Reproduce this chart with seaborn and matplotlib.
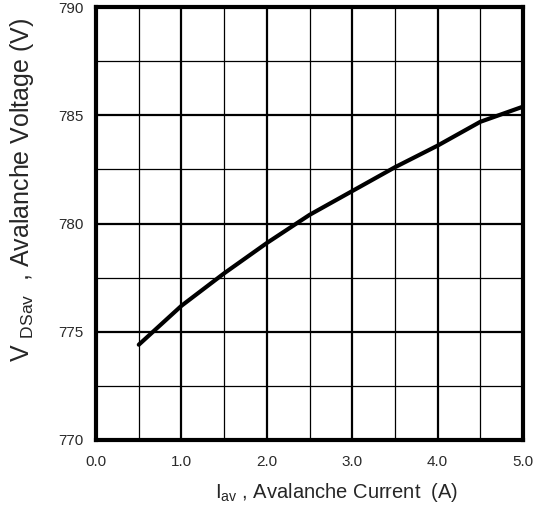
import matplotlib
matplotlib.use("Agg")
import matplotlib.pyplot as plt
import seaborn as sns
import pandas as pd
import numpy as np
from matplotlib.ticker import MultipleLocator

current = [0.5, 1.0, 1.5, 2.0, 2.5, 3.0, 3.5, 4.0, 4.5, 5.0]
voltage = [774.4, 776.2, 777.7, 779.1, 780.4, 781.5, 782.6, 783.6, 784.7, 785.4]
x_ticks = [0.0, 1.0, 2.0, 3.0, 4.0, 5.0]
x_tick_labels = ["0.0", "1.0", "2.0", "3.0", "4.0", "5.0"]
y_ticks = [770, 775, 780, 785, 790]
y_tick_labels = ["770", "775", "780", "785", "790"]

sns.set_style("white")
plt.rcParams['font.family'] = ['Liberation Sans', 'DejaVu Sans']
plt.rcParams['mathtext.fontset'] = 'custom'
plt.rcParams['mathtext.rm'] = 'Liberation Sans'

df = pd.DataFrame({"current": current, "voltage": voltage})

fig = plt.figure(figsize=(5.4, 5.08), dpi=100)
ax = fig.add_axes([0.178, 0.134, 0.7905, 0.852])

ax.set_xlim(0, 5)
ax.set_ylim(770, 790)
ax.xaxis.set_minor_locator(MultipleLocator(0.5))
ax.yaxis.set_minor_locator(MultipleLocator(2.5))
ax.grid(which='major', color='black', linewidth=1.6)
ax.grid(which='minor', color='black', linewidth=0.9)
ax.set_axisbelow(True)

sns.lineplot(data=df, x="current", y="voltage", ax=ax, color='black', linewidth=3.0)

ax.set_xticks(x_ticks)
ax.set_xticklabels(x_tick_labels)
ax.set_yticks(y_ticks)
ax.set_yticklabels(y_tick_labels)
ax.tick_params(which='both', length=0, labelsize=11, labelcolor='#2a2a2a')
ax.tick_params(axis='x', pad=11)
ax.tick_params(axis='y', pad=9)

for s in ax.spines.values():
    s.set_linewidth(3.0)
    s.set_color('black')

ax.set_xlabel(r"I$_{\mathregular{av}}$ , Avalanche Current  (A)", fontsize=14.5)
ax.set_ylabel(r"V $_{\mathregular{DSav}}$  , Avalanche Voltage (V)", fontsize=18)
ax.xaxis.set_label_coords(0.564, -0.095)
ax.yaxis.set_label_coords(-0.14, 0.577)

fig.savefig("out.png", dpi=100)
